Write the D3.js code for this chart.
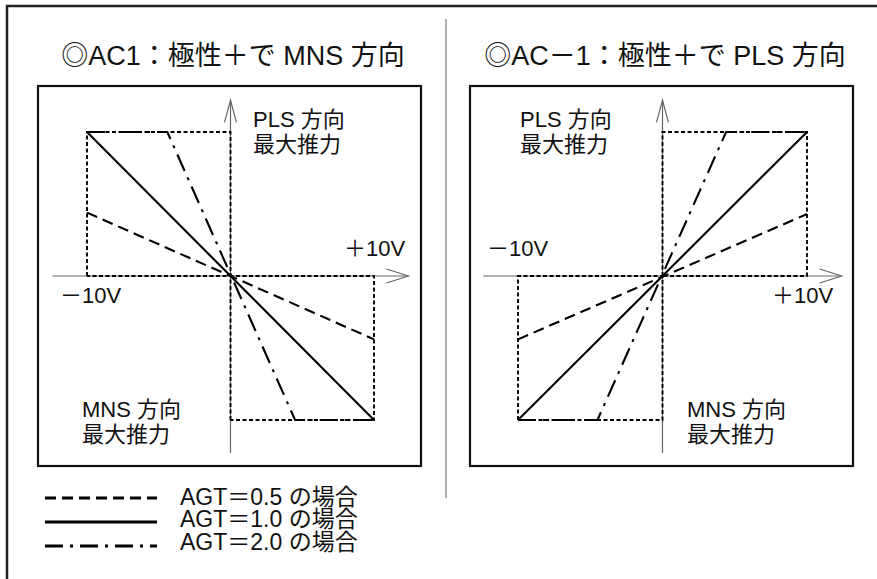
<!DOCTYPE html>
<html>
<head>
<meta charset="utf-8">
<script src="https://cdn.jsdelivr.net/npm/d3@7"></script>
<style>
body { margin: 0; background: #fff; }
text { font-family: "Liberation Sans", "Noto Sans CJK JP", sans-serif; fill: #111; }
</style>
</head>
<body>
<div id="chart"></div>
<script>
// Data
var voltDomain = [-10, 10];          // command voltage [V]
var thrustDomain = [-100, 100];      // thrust [% of max]
var titles = ["◎AC1：極性＋で MNS 方向", "◎AC－1：極性＋で PLS 方向"];
var voltLabels = ["－10V", "＋10V"];
var plsLabel = ["PLS 方向", "最大推力"];
var mnsLabel = ["MNS 方向", "最大推力"];
var legendLabels = ["AGT＝0.5 の場合", "AGT＝1.0 の場合", "AGT＝2.0 の場合"];

// AC1 : polarity + gives MNS direction   [volt, thrust%]
var ac1_agt05 = [[-10, 44], [10, -44]];
var ac1_agt10 = [[-10, 100], [10, -100]];
var ac1_agt20 = [[-10, 100], [-4.4, 100], [4.5, -100], [10, -100]];
var ac1_maxBoxes = [[-10, 0, 0, 100], [0, 10, -100, 0]];

// AC-1 : polarity + gives PLS direction
var acm1_agt05 = [[-10, -44], [10, 43]];
var acm1_agt10 = [[-10, -100], [10, 100]];
var acm1_agt20 = [[-10, -100], [-4.5, -100], [4.4, 100], [10, 100]];
var acm1_maxBoxes = [[-10, 0, -100, 0], [0, 10, 0, 100]];

// Styles
var dashes = ["11,6", null, "18,7,3,7"];
var width = 877, height = 579;

var svg = d3.select("#chart")
            .append("svg")
            .attr("width", width)
            .attr("height", height);

// outer frame (runs off the right and bottom edge)
svg.append("rect")
   .attr("x", 7).attr("y", 6)
   .attr("width", 900).attr("height", 600)
   .attr("fill", "none").attr("stroke", "#222").attr("stroke-width", 2.5);

// divider
svg.append("line")
   .attr("x1", 446).attr("x2", 446).attr("y1", 19).attr("y2", 498)
   .attr("stroke", "#777").attr("stroke-width", 1.2);

function drawPanel(p) {
    var x = d3.scaleLinear().domain(voltDomain).range([p.xl, p.xr]);
    var y = d3.scaleLinear().domain(thrustDomain).range([420, 132]);
    var g = svg.append("g");
    var line = d3.line().x(d => x(d[0])).y(d => y(d[1]));

    g.append("text")
     .attr("x", p.titleX).attr("y", 65)
     .attr("text-anchor", "middle")
     .style("font-size", "27px")
     .text(p.title);

    g.append("rect")
     .attr("x", p.bx).attr("y", 86)
     .attr("width", p.bw).attr("height", 380)
     .attr("fill", "none").attr("stroke", "#111").attr("stroke-width", 2.2);

    // axes with open arrow heads
    var ax0 = x(-12.4), ax1 = x(12.4), ay0 = y(-123), ay1 = y(122);
    var axes = g.append("g").attr("fill", "none").attr("stroke", "#666").attr("stroke-width", 1.2);
    axes.append("line").attr("x1", ax0).attr("x2", ax1).attr("y1", y(0)).attr("y2", y(0));
    axes.append("line").attr("x1", x(0)).attr("x2", x(0)).attr("y1", ay0).attr("y2", ay1);
    axes.append("path").attr("d", d3.line()([[ax1 - 22, y(0) - 7], [ax1, y(0)], [ax1 - 22, y(0) + 7]]));
    axes.append("path").attr("d", d3.line()([[x(0) - 6, ay1 + 22], [x(0), ay1], [x(0) + 6, ay1 + 22]]));

    // max thrust limits (dotted)
    g.append("g").selectAll("path")
     .data(p.boxes)
     .enter().append("path")
     .attr("d", b => line([[b[0], b[2]], [b[0], b[3]], [b[1], b[3]], [b[1], b[2]], [b[0], b[2]]]))
     .attr("fill", "none").attr("stroke", "#000")
     .attr("stroke-width", 1.9).attr("stroke-dasharray", "4,2.5");

    // AGT series
    g.append("g").selectAll("path")
     .data(p.series)
     .enter().append("path")
     .attr("d", line)
     .attr("fill", "none").attr("stroke", "#000")
     .attr("stroke-width", 2.1)
     .attr("stroke-dasharray", (d, i) => dashes[i]);

    // labels
    var lab = g.append("g").style("font-size", "22px");
    p.labels.forEach(function(l) {
        lab.append("text").attr("x", l[0]).attr("y", l[1]).text(l[2]);
    });
}

drawPanel({
    title: titles[0], titleX: 233,
    bx: 38, bw: 383, xl: 87, xr: 374,
    boxes: ac1_maxBoxes,
    series: [ac1_agt05, ac1_agt10, ac1_agt20],
    labels: [[253, 127, plsLabel[0]], [253, 152, plsLabel[1]],
             [344, 256, voltLabels[1]], [60, 303, voltLabels[0]],
             [82, 417, mnsLabel[0]], [82, 442, mnsLabel[1]]]
});

drawPanel({
    title: titles[1], titleX: 665,
    bx: 470, bw: 383, xl: 518, xr: 807,
    boxes: acm1_maxBoxes,
    series: [acm1_agt05, acm1_agt10, acm1_agt20],
    labels: [[520, 127, plsLabel[0]], [520, 152, plsLabel[1]],
             [487, 256, voltLabels[0]], [772, 303, voltLabels[1]],
             [687, 417, mnsLabel[0]], [687, 442, mnsLabel[1]]]
});

// legend
var legend = svg.append("g");
legendLabels.forEach(function(t, i) {
    legend.append("line")
          .attr("x1", 45).attr("x2", 157)
          .attr("y1", 498 + i * 24).attr("y2", 498 + i * 24)
          .attr("stroke", "#000").attr("stroke-width", 2.8)
          .attr("stroke-dasharray", dashes[i]);
    legend.append("text")
          .attr("x", 180).attr("y", 505 + i * 22.3)
          .style("font-size", "23px")
          .text(t);
});
</script>
</body>
</html>
